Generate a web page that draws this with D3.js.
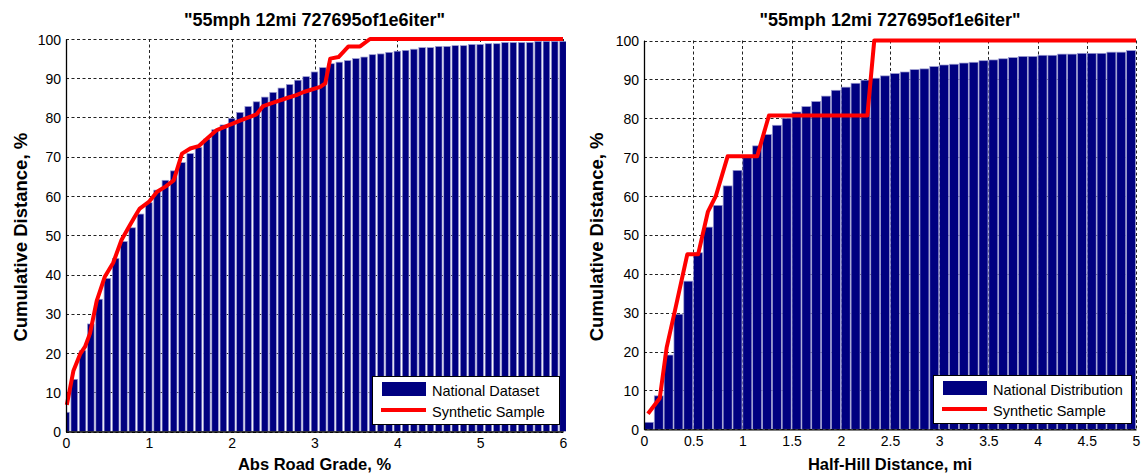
<!DOCTYPE html>
<html><head><meta charset="utf-8">
<script src="https://cdn.jsdelivr.net/npm/d3@7"></script>
<style>
body{margin:0;background:#fff}
svg{display:block}
text{font-family:"Liberation Sans",Arial,Helvetica,sans-serif;fill:#000}
</style>
</head><body>
<svg id="chart" width="1142" height="475"></svg>
<script>
// ---------- data ----------
const chartTitle = '"55mph 12mi 727695of1e6iter"';
const yLabel = "Cumulative Distance, %";
const gradeXLabel = "Abs Road Grade, %";
const hillXLabel = "Half-Hill Distance, mi";
const gradeLegend = ["National Dataset", "Synthetic Sample"];
const hillLegend = ["National Distribution", "Synthetic Sample"];

const pctTicks = [0,10,20,30,40,50,60,70,80,90,100];
const gradeTicks = [0,1,2,3,4,5,6];
const hillTicks = [0,0.5,1,1.5,2,2.5,3,3.5,4,4.5,5];

// Left panel: national dataset (bin centers, cumulative %)
const gradeBins = [0,0.1,0.2,0.3,0.4,0.5,0.6,0.7,0.8,0.9,1.0,1.1,1.2,1.3,1.4,1.5,1.6,1.7,1.8,1.9,
  2.0,2.1,2.2,2.3,2.4,2.5,2.6,2.7,2.8,2.9,3.0,3.1,3.2,3.3,3.4,3.5,3.6,3.7,3.8,3.9,
  4.0,4.1,4.2,4.3,4.4,4.5,4.6,4.7,4.8,4.9,5.0,5.1,5.2,5.3,5.4,5.5,5.6,5.7,5.8,5.9,6.0];
const gradeNational = [4.9,13.3,20.6,27.4,33.7,39.0,44.1,48.4,51.9,55.4,58.3,61.5,64.0,66.4,68.5,70.8,72.4,74.5,76.9,78.1,
  79.8,81.3,82.8,84.0,85.2,86.4,87.5,88.4,89.5,90.4,91.6,92.7,93.7,94.1,94.5,95.0,95.4,96.0,96.2,96.6,
  96.9,97.1,97.4,97.8,97.8,98.1,98.1,98.3,98.3,98.6,98.6,98.8,98.8,99.1,99.1,99.1,99.1,99.4,99.4,99.4,99.4];
// Left panel: synthetic sample
const gradeSynX = [0.01,0.09,0.17,0.23,0.29,0.37,0.47,0.57,0.67,0.75,0.83,0.89,1.0,1.1,1.2,1.3,1.4,1.5,1.6,1.7,1.82,1.96,2.1,2.3,2.38,2.52,2.66,2.78,2.87,3.07,3.13,3.19,3.29,3.41,3.55,3.67,6.0];
const gradeSynY = [6.8,15.5,19.7,21.6,25.0,33.2,39.5,43.0,48.8,51.8,54.7,56.8,58.5,61.1,62.4,64.0,70.8,72.1,72.7,74.6,76.8,78.0,79.2,80.8,82.9,83.9,84.9,85.7,86.5,87.8,88.7,95.0,95.4,98.1,98.1,100,100];

// Right panel: national distribution
const hillBins = [0.05,0.15,0.25,0.35,0.45,0.55,0.65,0.75,0.85,0.95,1.05,1.15,1.25,1.35,1.45,1.55,1.65,1.75,1.85,1.95,
  2.05,2.15,2.25,2.35,2.45,2.55,2.65,2.75,2.85,2.95,3.05,3.15,3.25,3.35,3.45,3.55,3.65,3.75,3.85,3.95,
  4.05,4.15,4.25,4.35,4.45,4.55,4.65,4.75,4.85,4.95];
const hillNational = [1.8,8.6,19.1,29.6,38.1,45.4,52.0,57.6,62.6,66.6,70.0,72.9,75.8,78.2,80.0,81.6,83.0,84.3,85.7,87.2,
  88.0,89.0,89.8,90.3,90.9,91.5,91.9,92.5,92.7,93.3,93.7,93.9,94.2,94.4,94.8,95.0,95.3,95.6,95.9,95.9,
  96.2,96.2,96.5,96.5,96.7,96.7,96.7,97.0,97.0,97.4];
// Right panel: synthetic sample
const hillSynX = [0.04,0.16,0.23,0.31,0.44,0.55,0.65,0.73,0.85,1.15,1.27,2.27,2.34,5.0];
const hillSynY = [4.0,8.0,21.0,30.0,45.0,45.0,56.0,60.0,70.2,70.2,80.7,80.7,100,100];

// ---------- drawing ----------
const svg = d3.select("#chart");
const navy = "#000080";

function panel(cfg) {
  const x = d3.scaleLinear().domain(cfg.xDomain).range([cfg.left, cfg.right]);
  const y = d3.scaleLinear().domain([0,100]).range([cfg.bottom, cfg.top]);
  const g = svg.append("g");
  const clipId = "clip" + cfg.id;
  g.append("clipPath").attr("id", clipId).append("rect")
    .attr("x", cfg.left).attr("y", cfg.top - 4)
    .attr("width", cfg.right - cfg.left + 3).attr("height", cfg.bottom - cfg.top + 4);

  // grid (behind bars)
  const grid = g.append("g").attr("stroke", "#222").attr("stroke-width", 1)
    .attr("stroke-dasharray", "3,2.5").attr("fill", "none");
  cfg.yTicks.forEach(t => grid.append("line")
    .attr("x1", cfg.left).attr("x2", cfg.right)
    .attr("y1", Math.round(y(t)) + 0.5).attr("y2", Math.round(y(t)) + 0.5));
  cfg.xTicks.forEach(t => grid.append("line")
    .attr("x1", Math.round(x(t)) + 0.5).attr("x2", Math.round(x(t)) + 0.5)
    .attr("y1", cfg.top).attr("y2", cfg.bottom));

  // bars
  const bw = x(cfg.barWidth) - x(0);
  g.append("g").attr("clip-path", `url(#${clipId})`)
    .selectAll("rect").data(cfg.bins).join("rect")
    .attr("x", (d) => x(d) - bw / 2)
    .attr("width", bw)
    .attr("y", (d, i) => y(cfg.values[i]))
    .attr("height", (d, i) => y(0) - y(cfg.values[i]))
    .attr("fill", navy)
    .attr("stroke", "#9c9cd0").attr("stroke-width", 0.7);

  // synthetic line
  const pts = cfg.synX.map((v, i) => [v, cfg.synY[i]]);
  g.append("path").datum(pts)
    .attr("d", d3.line().x(d => x(d[0])).y(d => y(d[1])))
    .attr("fill", "none").attr("stroke", "#ff0000").attr("stroke-width", 4)
    .attr("stroke-linejoin", "round").attr("stroke-linecap", "butt");

  // axes
  const ya = d3.axisLeft(y).tickValues(cfg.yTicks).tickSize(0).tickPadding(5);
  const yg = g.append("g").attr("transform", `translate(${cfg.left},0)`).call(ya);
  const xa = d3.axisBottom(x).tickValues(cfg.xTicks).tickSize(0).tickPadding(6)
    .tickFormat(d3.format("~g"));
  const xg = g.append("g").attr("transform", `translate(0,${cfg.bottom})`).call(xa);
  [yg, xg].forEach(a => {
    a.select(".domain").attr("stroke", "#000").attr("stroke-width", 1.3);
    a.selectAll("text").attr("font-size", "14px").attr("fill", "#111")
      .style("font-family", '"Liberation Sans",Arial,sans-serif');
  });
  yg.selectAll(".tick text").attr("dy", "0.36em");
  xg.selectAll(".tick text").attr("dy", "0.78em");

  // title & labels
  const cx = (cfg.left + cfg.right) / 2;
  g.append("text").attr("x", cx).attr("y", 26).attr("text-anchor", "middle")
    .attr("font-size", "18px").attr("font-weight", "bold").text(chartTitle);
  g.append("text").attr("x", cx).attr("y", 470).attr("text-anchor", "middle")
    .attr("font-size", "16.5px").attr("font-weight", "bold").text(cfg.xLabel);
  g.append("text").attr("transform", `translate(${cfg.yLabelX},${(cfg.top + cfg.bottom) / 2 + 2}) rotate(-90)`)
    .attr("text-anchor", "middle").attr("font-size", "18.5px").attr("font-weight", "bold").text(yLabel);

  // legend
  const L = cfg.legend;
  const lg = g.append("g");
  lg.append("rect").attr("x", L.x + 0.5).attr("y", L.y + 0.5).attr("width", L.w).attr("height", L.h)
    .attr("fill", "#fff").attr("stroke", "#000").attr("stroke-width", 1);
  lg.append("rect").attr("x", L.x + 10).attr("y", L.y + 6).attr("width", 44).attr("height", 14).attr("fill", navy);
  lg.append("line").attr("x1", L.x + 9).attr("x2", L.x + 54).attr("y1", L.y + 34).attr("y2", L.y + 34)
    .attr("stroke", "#ff0000").attr("stroke-width", 4);
  lg.append("text").attr("x", L.x + 60).attr("y", L.y + 20).attr("font-size", "14.5px").text(cfg.legendText[0]);
  lg.append("text").attr("x", L.x + 60).attr("y", L.y + 41).attr("font-size", "14.5px").text(cfg.legendText[1]);
}

panel({
  id: "L", xDomain: [0, 6], left: 66, right: 563, top: 39, bottom: 431.5,
  xTicks: gradeTicks, yTicks: pctTicks, bins: gradeBins, values: gradeNational, barWidth: 0.08,
  synX: gradeSynX, synY: gradeSynY, xLabel: gradeXLabel, yLabelX: 26.5,
  legend: {x: 372, y: 376, w: 187, h: 48}, legendText: gradeLegend
});
panel({
  id: "R", xDomain: [0, 5], left: 644, right: 1136, top: 40.5, bottom: 429.3,
  xTicks: hillTicks, yTicks: pctTicks, bins: hillBins, values: hillNational, barWidth: 0.091,
  synX: hillSynX, synY: hillSynY, xLabel: hillXLabel, yLabelX: 603,
  legend: {x: 933, y: 375, w: 198, h: 48}, legendText: hillLegend
});
</script>
</body></html>
